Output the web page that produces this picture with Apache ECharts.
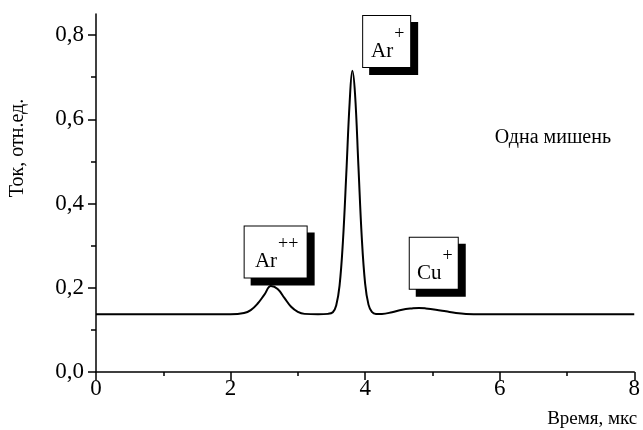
<!DOCTYPE html>
<html>
<head>
<meta charset="utf-8">
<script src="https://cdn.jsdelivr.net/npm/echarts@6/dist/echarts.min.js"></script>
<style>
html,body{margin:0;padding:0;background:#fff}
#chart{width:643px;height:430px}
</style>
</head>
<body>
<div id="chart"></div>
<script>
// ============================= данные ===============================

const timeUs = [0, 1, 2, 2.2, 2.3, 2.4, 2.5, 2.6, 2.7, 2.8, 2.9, 3.0, 3.1, 3.3, 3.45,
    3.52, 3.57, 3.62, 3.67, 3.72, 3.77, 3.81, 3.85, 3.9, 3.95, 4.0, 4.05, 4.1, 4.16,
    4.25, 4.4, 4.55, 4.7, 4.8, 4.9, 5.05, 5.2, 5.35, 5.5, 6, 7, 8];
const current = [0.137, 0.137, 0.137, 0.140, 0.147, 0.162, 0.183, 0.204, 0.197, 0.176, 0.155, 0.143, 0.138, 0.137, 0.138,
    0.142, 0.158, 0.205, 0.310, 0.470, 0.640, 0.715, 0.660, 0.490, 0.320, 0.210, 0.160, 0.143, 0.138,
    0.138, 0.142, 0.148, 0.151, 0.152, 0.151, 0.148, 0.144, 0.140, 0.138, 0.137, 0.137, 0.137];

const xTicks = [0, 2, 4, 6, 8];
const yTicks = [0, 0.2, 0.4, 0.6, 0.8];
const yMinorTicks = [0.1, 0.3, 0.5, 0.7];

const FONT = 'Liberation Serif';

// подпись пика в рамке с тенью
function peakBox(ion, charge, coord, w) {
    return {
        coord: coord,
        label: {
            formatter: '{a|' + ion + '}{s|' + charge + '}',
            width: w
        }
    };
}

// ============================= настройки ===============================

let option = {
    animation: false,
    textStyle: { fontFamily: FONT, color: '#000' },
    grid: { left: 96, right: 7, top: 14, bottom: 58 },
    xAxis: {
        type: 'value',
        min: 0, max: 8, interval: 2,
        name: 'Время, мкс',
        nameLocation: 'end',
        nameGap: 3,
        nameTextStyle: { fontFamily: FONT, fontSize: 19, color: '#000', align: 'right', verticalAlign: 'top', padding: [38, 0, 0, 0] },
        axisLine: { lineStyle: { color: '#000', width: 1.5 } },
        axisTick: { length: 8, lineStyle: { width: 1.5 }, customValues: xTicks },
        minorTick: { show: true, splitNumber: 2, length: 4, lineStyle: { color: '#000', width: 1.5 } },
        axisLabel: { fontFamily: FONT, fontSize: 23, color: '#000', margin: 5, customValues: xTicks },
        splitLine: { show: false }
    },
    yAxis: [{
        type: 'value',
        min: 0, max: 0.85, interval: 0.2,
        name: 'Ток, отн.ед.',
        nameLocation: 'middle',
        nameGap: 68,
        nameTextStyle: { fontFamily: FONT, fontSize: 20, color: '#000', padding: [0, 0, 0, 90] },
        axisLine: { show: true, lineStyle: { color: '#000', width: 1.5 } },
        axisTick: { show: true, length: 8, lineStyle: { width: 1.5 }, customValues: yTicks },
        axisLabel: {
            fontFamily: FONT, fontSize: 23, color: '#000', margin: 12, customValues: yTicks,
            formatter: v => v.toFixed(1).replace('.', ',')
        },
        splitLine: { show: false }
    }, {
        type: 'value',
        position: 'left',
        min: 0, max: 0.85, interval: 0.1,
        axisLine: { show: false },
        axisTick: { show: true, length: 5, lineStyle: { color: '#000', width: 1.5 }, customValues: yMinorTicks },
        axisLabel: { show: false },
        splitLine: { show: false }
    }],
    series: [{
        type: 'line',
        data: timeUs.map((t, i) => [t, current[i]]),
        showSymbol: false,
        smooth: 0.4,
        lineStyle: { color: '#000', width: 2 },
        markPoint: {
            symbol: 'rect',
            symbolSize: 0,
            label: {
                show: true,
                position: 'inside',
                backgroundColor: '#fff',
                borderColor: '#000',
                borderWidth: 1,
                shadowColor: '#000',
                shadowBlur: 0,
                shadowOffsetX: 7,
                shadowOffsetY: 7,
                padding: [3, 4, 5, 6],
                rich: {
                    a: { fontFamily: FONT, fontSize: 21, color: '#000', padding: [22, 0, 0, 0] },
                    s: { fontFamily: FONT, fontSize: 18, color: '#000', padding: [6, 0, 19, 1] }
                }
            },
            data: [
                peakBox('Ar', '++', [2.67, 0.285], 52),
                peakBox('Ar', '+', [4.32, 0.785], 37),
                peakBox('Cu', '+', [5.02, 0.258], 38),
                {
                    coord: [6.79, 0.555],
                    label: {
                        formatter: 'Одна мишень',
                        fontFamily: FONT, fontSize: 20, color: '#000', padding: 0,
                        backgroundColor: 'transparent', borderWidth: 0, shadowColor: 'transparent'
                    }
                }
            ]
        }
    }]
};

echarts.init(document.getElementById('chart')).setOption(option);
</script>
</body>
</html>
